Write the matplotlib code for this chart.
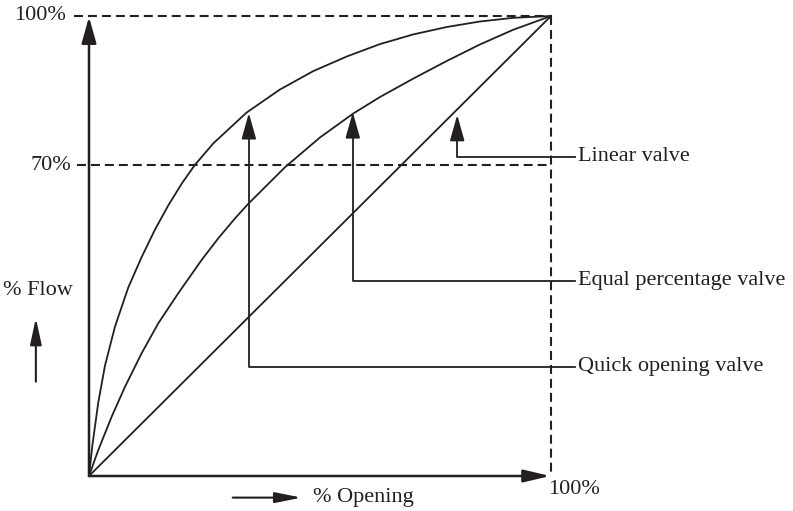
import matplotlib.pyplot as plt

# curves (% opening, % flow)
quick_x = [0, 0.71, 2.01, 3.46, 5.63, 8.51, 11.4, 14.3, 17.2, 20.1, 22.9, 26.9,
           34.1, 41.3, 48.5, 55.8, 63.0, 70.2, 77.4, 84.6, 91.8, 100]
quick_y = [0, 6.5, 16.0, 24.0, 32.5, 41.0, 47.6, 53.6, 58.9, 63.6, 67.6, 72.3,
           79.0, 84.0, 88.0, 91.2, 93.9, 96.0, 97.6, 98.8, 99.6, 100]
equal_x = [0, 2.01, 4.91, 7.79, 11.4, 15.0, 19.3, 24.4, 28.0, 31.6, 34.5, 42.4,
           50.0, 57.2, 63.0, 70.2, 77.4, 84.6, 91.8, 100]
equal_y = [0, 5.65, 12.9, 19.4, 26.7, 33.2, 39.7, 47.0, 51.7, 56.0, 59.2, 67.1,
           73.6, 78.8, 82.4, 86.4, 90.2, 93.8, 97.0, 100]
linear_x = [0, 100]
linear_y = [0, 100]
level_70 = 67.6

plt.rcParams['font.family'] = ['Liberation Serif', 'DejaVu Serif']

fig = plt.figure(figsize=(7.93, 5.11), dpi=100)
ax = fig.add_axes([89 / 793, 35 / 511, 462 / 793, 460 / 511])
ax.set_xlim(0, 100)
ax.set_ylim(0, 100)
ax.axis('off')

k = '#231f20'
fs = 16

for xs, ys in [(quick_x, quick_y), (equal_x, equal_y), (linear_x, linear_y)]:
    ax.plot(xs, ys, color=k, lw=1.3, clip_on=False, solid_joinstyle='round')

# dashed guide lines
dash = dict(color=k, lw=1.5, dashes=(4.3, 2.4), clip_on=False)
ax.plot([-3.2, 100], [100, 100], **dash)
ax.plot([-2.6, 100], [level_70, level_70], **dash)
ax.plot([100, 100], [100, 0], **dash)


def arrow(x0, y0, x1, y1, lw=1.5, hl=1.6, hw=0.45):
    ax.annotate('', xy=(x1, y1), xytext=(x0, y0), annotation_clip=False,
                arrowprops=dict(arrowstyle='-|>,head_length=%s,head_width=%s' % (hl, hw),
                                color=k, lw=lw, shrinkA=0, shrinkB=0,
                                mutation_scale=10))


# axes
arrow(0, 0, 0, 99.8, lw=1.8)
arrow(0, 0, 99.8, 0, lw=1.8, hw=0.38)

# leaders
leaders = [(79.7, 78.5, 69.4, 'Linear valve'),
           (57.1, 79.1, 42.4, 'Equal percentage valve'),
           (34.6, 78.9, 23.7, 'Quick opening valve')]
for x, tip, yl, name in leaders:
    ax.plot([105.2, x, x], [yl, yl, tip - 4], color=k, lw=1.3, clip_on=False)
    arrow(x, tip - 5, x, tip, lw=1.3)
    ax.text(105.8, yl, name, fontsize=fs, va='center', ha='left', color=k)

# labels
ax.text(-5.0, 100, '100%', fontsize=fs, ha='right', va='center', color=k)
ax.text(-3.9, level_70, '70%', fontsize=fs, ha='right', va='center', color=k)
ax.text(99.4, -2.9, '100%', fontsize=fs, ha='left', va='center', color=k)
ax.text(48.5, -4.7, '% Opening', fontsize=fs, ha='left', va='center', color=k)
arrow(31.1, -4.7, 46.0, -4.7, lw=1.5, hw=0.32)
ax.text(-11.0, 40.4, '% Flow', fontsize=fs, ha='center', va='center', color=k)
arrow(-11.5, 20.5, -11.5, 34.3, lw=1.5, hw=0.35)

fig.savefig('out.png', dpi=100)
